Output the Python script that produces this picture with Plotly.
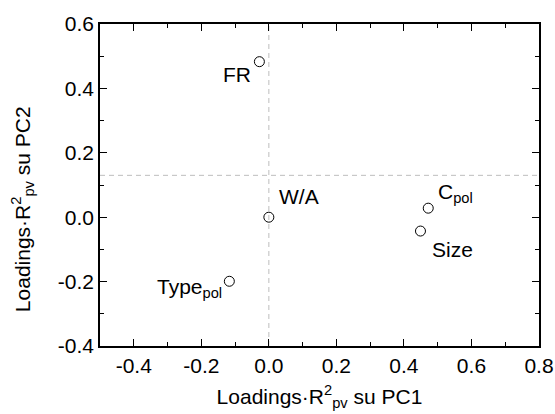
import plotly.graph_objects as go

names = ["FR", "W/A", "C<sub>pol</sub>", "Size", "Type<sub>pol</sub>"]
pc1 = [-0.028, 0.0, 0.472, 0.449, -0.117]
pc2 = [0.483, 0.0, 0.028, -0.043, -0.199]
hline_y = 0.13
vline_x = 0.0
xticks = [-0.4, -0.2, 0.0, 0.2, 0.4, 0.6, 0.8]
xticktext = ["-0.4", "-0.2", "0.0", "0.2", "0.4", "0.6", "0.8"]
yticks = [-0.4, -0.2, 0.0, 0.2, 0.4, 0.6]
yticktext = ["-0.4", "-0.2", "0.0", "0.2", "0.4", "0.6"]
xtitle = "Loadings·R<sup>2</sup><sub>pv</sub> su PC1"
ytitle = "Loadings·R<sup>2</sup><sub>pv</sub> su PC2"

# label placement: (xanchor, xshift, yshift)
label_pos = [("right", -6, -13), ("left", 8, 21), ("left", 8, 15), ("left", 10, -18), ("right", -5, -7)]

FONT = "Arial, Liberation Sans, sans-serif"
FS = 21

fig = go.Figure()
fig.add_trace(go.Scatter(
    x=pc1, y=pc2, mode="markers",
    marker=dict(symbol="circle-open", size=10, color="black", line=dict(width=1, color="black")),
    showlegend=False, cliponaxis=False,
))

for n, x, y, (xa, xs, ys) in zip(names, pc1, pc2, label_pos):
    fig.add_annotation(x=x, y=y, text=n, showarrow=False, xanchor=xa, yanchor="middle",
                       xshift=xs, yshift=ys, font=dict(size=FS, color="black", family=FONT))

# y-axis title (placed slightly below centre as in the reference)
fig.add_annotation(xref="paper", yref="paper", x=0, y=0.425, xanchor="center", yanchor="middle",
                   xshift=-78, text=ytitle, textangle=-90, showarrow=False,
                   font=dict(size=FS, color="black", family=FONT))

fig.add_shape(type="line", xref="x", yref="paper", x0=vline_x, x1=vline_x, y0=0, y1=1,
              line=dict(color="#bdbdbd", width=1, dash="5px,4px"), layer="below")
fig.add_shape(type="line", xref="paper", yref="y", x0=0, x1=1, y0=hline_y, y1=hline_y,
              line=dict(color="#bdbdbd", width=1, dash="5px,4px"), layer="below")

axis_common = dict(
    showgrid=False, zeroline=False, showline=True, linecolor="black", linewidth=1.5,
    mirror="allticks", ticks="inside", ticklen=7, tickwidth=1.2, tickcolor="black",
    tickfont=dict(size=FS, color="black", family=FONT), automargin=False,
    minor=dict(ticks="inside", ticklen=4, tickwidth=1.2, tickcolor="black", dtick=0.1),
)

fig.update_xaxes(range=[-0.5, 0.8], tickmode="array", tickvals=xticks, ticktext=xticktext,
                 title=dict(text=xtitle, standoff=13,
                            font=dict(size=FS, color="black", family=FONT)),
                 **axis_common)
fig.update_yaxes(range=[-0.4, 0.6], tickmode="array", tickvals=yticks, ticktext=yticktext,
                 **axis_common)

fig.update_layout(
    width=555, height=414,
    margin=dict(l=100, r=16, t=24, b=68),
    plot_bgcolor="white", paper_bgcolor="white",
    font=dict(family=FONT, color="black"),
)

fig.write_html("out.html", config={"displayModeBar": False},
               post_script="document.body.style.margin='0';document.body.style.overflow='hidden';")
